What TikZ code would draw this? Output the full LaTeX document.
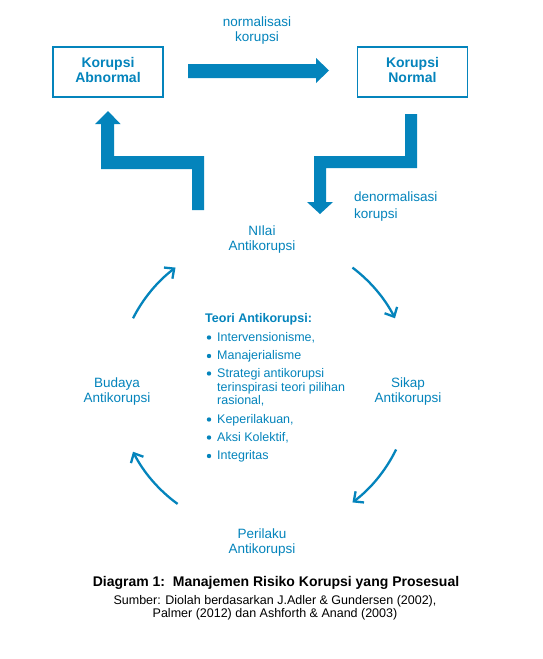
\documentclass[tikz,border=0pt]{standalone}
\usepackage{fontspec}
\setmainfont{Liberation Sans}
\usetikzlibrary{arrows.meta,calc}
\definecolor{kblue}{RGB}{4,132,188}
\definecolor{capblack}{RGB}{0,0,0}
\tikzset{
  box/.style={draw=kblue,line width=1.8pt,minimum width=110pt,minimum height=50pt,inner sep=0pt,align=center,text=kblue,font=\fontsize{14}{15}\selectfont\bfseries},
  lbl/.style={align=center,text=kblue,inner sep=0pt,font=\fontsize{13.5}{15}\selectfont},
  lbll/.style={align=left,text=kblue,inner sep=0pt,font=\fontsize{13.5}{17}\selectfont},
  item/.style={anchor=base west,text=kblue,inner sep=0pt,font=\fontsize{12.5}{13}\selectfont},
  blockarrow/.style={fill=kblue,draw=none},
  cyc/.style={draw=kblue,line width=2.3pt,-{Straight Barb[length=7.5pt,width=14pt,line width=2.3pt]}},
  bul/.style={fill=kblue,draw=none}
}
\begin{document}
\begin{tikzpicture}[x=1pt,y=-1pt]
\useasboundingbox (0,0) rectangle (542,659);
\fill[white] (0,0) rectangle (542,659);
% boxes
\node[box] (abn) at (108,72) {\raisebox{-2.5pt}{\begin{tabular}{@{}c@{}}Korupsi\\Abnormal\end{tabular}}};
\node[box] (nor) at (412.5,72) {\raisebox{-2.5pt}{\begin{tabular}{@{}c@{}}Korupsi\\Normal\end{tabular}}};
% top label
\node[lbl] (normlbl) at (257,31) {normalisasi\\korupsi};
\node[lbll,anchor=north west] (denlbl) at (354,192) {denormalisasi\\korupsi};
% block arrows
\fill[blockarrow] (188,64) -- (316,64) -- (316,58) -- (329,70.5) -- (316,83) -- (316,78) -- (188,78) -- cycle;
\fill[blockarrow] (108,111) -- (120.5,124) -- (114,124) -- (114,156) -- (204,156) -- (204,210) -- (192,210) -- (192,169) -- (101,169) -- (101,124) -- (95,124) -- cycle;
\fill[blockarrow] (405,114) -- (417,114) -- (417,168) -- (326,168) -- (326,202) -- (333,202) -- (320,214) -- (307,202) -- (314,202) -- (314,156) -- (405,156) -- cycle;
% cycle labels
\node[lbl] (nilai) at (262,240) {NIlai\\Antikorupsi};
\node[lbl] (sikap) at (408,392) {Sikap\\Antikorupsi};
\node[lbl] (budaya) at (117,392) {Budaya\\Antikorupsi};
\node[lbl] (perilaku) at (262,543) {Perilaku\\Antikorupsi};
% cycle arrows
\coordinate (c) at (264,385);
\draw[cyc] ($(c)+(153:147pt)$) arc[start angle=153,end angle=127,radius=147pt];
\draw[cyc] ($(c)+(53:147pt)$) arc[start angle=53,end angle=27,radius=147pt];
\draw[cyc] ($(c)+(-26:147pt)$) arc[start angle=-26,end angle=-53,radius=147pt];
\draw[cyc] ($(c)+(234:147pt)$) arc[start angle=234,end angle=207,radius=147pt];
% theory list
\node[item,font=\fontsize{12.5}{13}\selectfont\bfseries] (teori) at (205,322.5) {Teori Antikorupsi:};
\node[item] (i1) at (217,341) {Intervensionisme,};
\node[item] (i2) at (217,359.5) {Manajerialisme};
\node[item] (i3a) at (217,377) {Strategi antikorupsi};
\node[item] (i3b) at (217,391) {terinspirasi teori pilihan};
\node[item] (i3c) at (217,404) {rasional,};
\node[item] (i4) at (217,423) {Keperilakuan,};
\node[item] (i5) at (217,441) {Aksi Kolektif,};
\node[item] (i6) at (217,459.5) {Integritas};
\foreach \yy in {337.5,356,373.5,419.5,437.5,456}{\fill[bul] (209,\yy) circle (2.2pt);}
% caption
\node[inner sep=0pt,text=capblack,font=\fontsize{14}{15}\selectfont\bfseries] (cap) at (276,583) {Diagram 1:\ \ Manajemen Risiko Korupsi yang Prosesual};
\node[inner sep=0pt,align=center,text=capblack,font=\fontsize{12.5}{13.5}\selectfont] (src) at (275,608) {Sumber: Diolah berdasarkan J.Adler \& Gundersen (2002),\\Palmer (2012) dan Ashforth \& Anand (2003)};
\end{tikzpicture}
\end{document}
